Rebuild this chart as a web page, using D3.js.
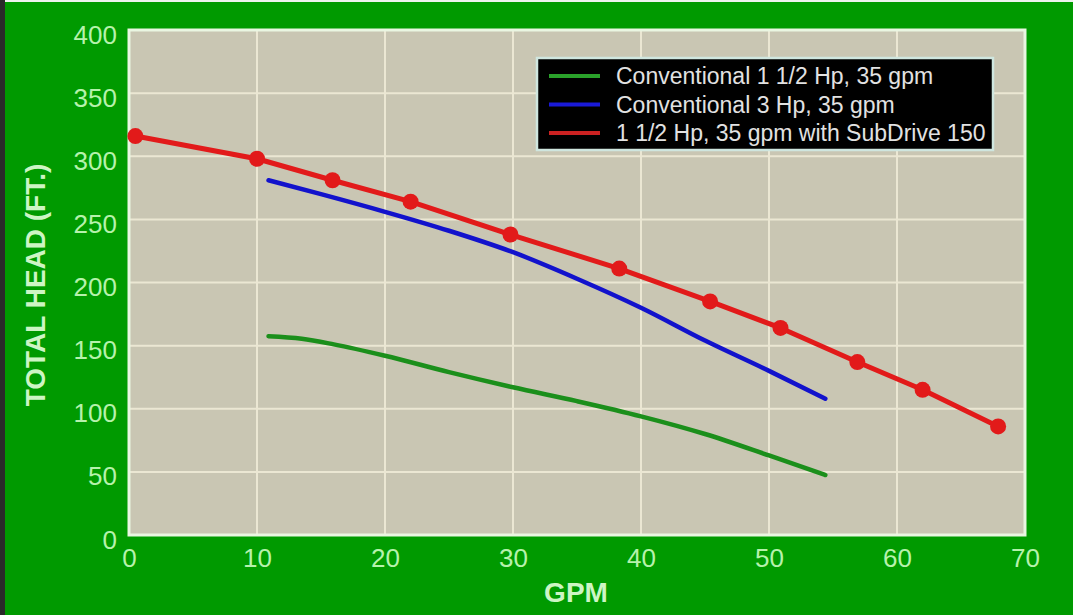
<!DOCTYPE html>
<html>
<head>
<meta charset="utf-8">
<script src="https://cdn.jsdelivr.net/npm/d3@7"></script>
<style>
  html, body { margin: 0; padding: 0; background: #009900; }
  svg { display: block; }
  text { font-family: "Liberation Sans", Arial, Helvetica, sans-serif; }
</style>
</head>
<body>
<svg id="chart" width="1073" height="615"></svg>
<script>
// ---- data ----
const xTicks = [0, 10, 20, 30, 40, 50, 60, 70];
const yTicks = [0, 50, 100, 150, 200, 250, 300, 350, 400];

const seriesNames = [
  "Conventional 1 1/2 Hp, 35 gpm",
  "Conventional 3 Hp, 35 gpm",
  "1 1/2 Hp, 35 gpm with SubDrive 150"
];

// Conventional 1 1/2 Hp (green)
const greenGpm  = [10.9, 13.5, 16, 20, 25, 30, 35, 40, 45, 50, 54.4];
const greenHead = [157.5, 155.5, 151, 142, 129, 117, 106, 94, 80, 63, 47.5];

// Conventional 3 Hp (blue)
const blueGpm  = [10.9, 15, 20, 25, 30, 35, 40, 45, 50, 54.4];
const blueHead = [281, 270, 256, 241, 224, 203, 180, 154, 130, 108];

// SubDrive 150 (red, with markers)
const redGpm  = [0.5, 10, 15.9, 22, 29.8, 38.3, 45.4, 50.9, 56.9, 62, 67.9];
const redHead = [316, 298, 281, 264, 238, 211, 185, 164, 137, 115, 86];

// ---- drawing ----
const W = 1073, H = 615;
const svg = d3.select("#chart");
const x = d3.scaleLinear().domain([0, 70]).range([129, 1025]);
const y = d3.scaleLinear().domain([0, 400]).range([535, 30]);

// background
svg.append("rect").attr("x", 0).attr("y", 0).attr("width", W).attr("height", H).attr("fill", "#009a00");
svg.append("rect").attr("x", 0).attr("y", 0).attr("width", 5).attr("height", H).attr("fill", "#2a2a2a");
svg.append("rect").attr("x", 5).attr("y", 0).attr("width", W - 5).attr("height", 2).attr("fill", "#eef2ee");

// plot area
svg.append("rect")
  .attr("x", x(0)).attr("y", y(400))
  .attr("width", x(70) - x(0)).attr("height", y(0) - y(400))
  .attr("fill", "#c9c6b3");

// grid
const gridColor = "#ebe7d3";
svg.append("g").selectAll("line").data(xTicks.slice(1, -1)).join("line")
  .attr("x1", d => x(d)).attr("x2", d => x(d))
  .attr("y1", y(400)).attr("y2", y(0))
  .attr("stroke", gridColor).attr("stroke-width", 2);
svg.append("g").selectAll("line").data(yTicks.slice(1, -1)).join("line")
  .attr("x1", x(0)).attr("x2", x(70))
  .attr("y1", d => y(d)).attr("y2", d => y(d))
  .attr("stroke", gridColor).attr("stroke-width", 2);

// plot border
svg.append("rect")
  .attr("x", x(0)).attr("y", y(400))
  .attr("width", x(70) - x(0)).attr("height", y(0) - y(400))
  .attr("fill", "none").attr("stroke", "#eaf6e2").attr("stroke-width", 3);

// axes (tick labels via d3 axes, domain/ticks hidden)
const labelColor = "#b6f2ac";
const xAxis = svg.append("g")
  .attr("transform", `translate(0,${y(0)})`)
  .call(d3.axisBottom(x).tickValues(xTicks).tickSize(0).tickPadding(0));
xAxis.select(".domain").remove();
xAxis.selectAll("text")
  .attr("y", 32).attr("dy", 0)
  .attr("fill", labelColor).attr("font-size", 26)
  .attr("font-family", "Liberation Sans, Arial, sans-serif");

const yAxis = svg.append("g")
  .attr("transform", `translate(${x(0)},0)`)
  .call(d3.axisLeft(y).tickValues(yTicks).tickSize(0).tickPadding(0));
yAxis.select(".domain").remove();
yAxis.selectAll("text")
  .attr("x", -12).attr("dy", 0).attr("y", 13)
  .attr("fill", labelColor).attr("font-size", 26)
  .attr("font-family", "Liberation Sans, Arial, sans-serif");

// axis titles
svg.append("text")
  .attr("transform", `translate(45,${285}) rotate(-90)`)
  .attr("text-anchor", "middle")
  .attr("font-size", 28).attr("font-weight", "bold")
  .attr("fill", "#cdf5c4")
  .text("TOTAL HEAD (FT.)");
svg.append("text")
  .attr("x", 576).attr("y", 602)
  .attr("text-anchor", "middle")
  .attr("font-size", 28).attr("font-weight", "bold")
  .attr("fill", "#cdf5c4")
  .text("GPM");

// lines
const colors = ["#1b8f1b", "#1212cc", "#e21a1a"];
const lineSmooth = d3.line().x(d => x(d[0])).y(d => y(d[1])).curve(d3.curveMonotoneX);
const lineStraight = d3.line().x(d => x(d[0])).y(d => y(d[1]));

const greenData = d3.zip(greenGpm, greenHead);
const blueData = d3.zip(blueGpm, blueHead);
const redData = d3.zip(redGpm, redHead);

svg.append("path").datum(greenData)
  .attr("d", lineSmooth).attr("fill", "none")
  .attr("stroke", colors[0]).attr("stroke-width", 4.5).attr("stroke-linecap", "round");
svg.append("path").datum(blueData)
  .attr("d", lineSmooth).attr("fill", "none")
  .attr("stroke", colors[1]).attr("stroke-width", 4.5).attr("stroke-linecap", "round");
svg.append("path").datum(redData)
  .attr("d", lineStraight).attr("fill", "none")
  .attr("stroke", colors[2]).attr("stroke-width", 5).attr("stroke-linejoin", "round");
svg.append("g").selectAll("circle").data(redData).join("circle")
  .attr("cx", d => x(d[0])).attr("cy", d => y(d[1])).attr("r", 8)
  .attr("fill", colors[2]);

// legend
const lg = svg.append("g");
lg.append("rect")
  .attr("x", 537).attr("y", 58).attr("width", 456).attr("height", 92)
  .attr("fill", "#000").attr("stroke", "#cfe6df").attr("stroke-width", 2.5);
const legendColors = ["#2aa02a", "#1a1ad8", "#cc2222"];
seriesNames.forEach((name, i) => {
  const cy = 76 + i * 28.5;
  lg.append("line")
    .attr("x1", 549).attr("x2", 600).attr("y1", cy).attr("y2", cy)
    .attr("stroke", legendColors[i]).attr("stroke-width", 4);
  lg.append("text")
    .attr("x", 616).attr("y", cy + 8)
    .attr("font-size", 23).attr("fill", "#e2e2e2")
    .text(name);
});
</script>
</body>
</html>
